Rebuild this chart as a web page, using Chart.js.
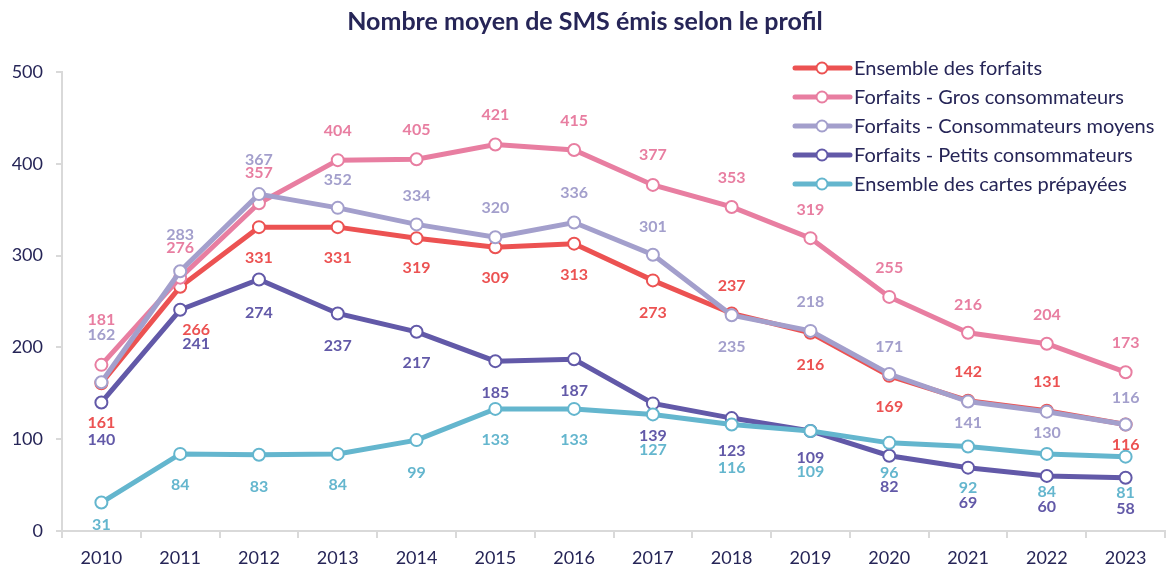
<!DOCTYPE html>
<html>
<head>
<meta charset="utf-8">
<script src="https://cdn.jsdelivr.net/npm/chart.js@4/dist/chart.umd.min.js"></script>
<style>
  html, body { margin: 0; padding: 0; background: #ffffff; }
  #wrap { width: 1173px; height: 570px; position: relative; }
</style>
</head>
<body>
<div id="wrap"><canvas id="c" width="1173" height="570"></canvas></div>
<script>
// ---- Data ----
const years = ['2010','2011','2012','2013','2014','2015','2016','2017','2018','2019','2020','2021','2022','2023'];
const seriesNames = [
  'Ensemble des forfaits',
  'Forfaits - Gros consommateurs',
  'Forfaits - Consommateurs moyens',
  'Forfaits - Petits consommateurs',
  'Ensemble des cartes prépayées'
];
const ensembleForfaits = [161, 266, 331, 331, 319, 309, 313, 273, 237, 216, 169, 142, 131, 116];
const grosConso       = [181, 276, 357, 404, 405, 421, 415, 377, 353, 319, 255, 216, 204, 173];
const moyensConso     = [162, 283, 367, 352, 334, 320, 336, 301, 235, 218, 171, 141, 130, 116];
const petitsConso     = [140, 241, 274, 237, 217, 185, 187, 139, 123, 109,  82,  69,  60,  58];
const cartesPrepayees = [ 31,  84,  83,  84,  99, 133, 133, 127, 116, 109,  96,  92,  84,  81];
const yTicks = [0, 100, 200, 300, 400, 500];

// ---- Styling / label placement (kept separate from data) ----
const colors = ['#EC5252', '#E87EA1', '#A39FCC', '#6259A8', '#64B6CE'];
const navy = '#262557';
// vertical offset (px) of each value label from its point
const labelDy = [
  [ 40, 43, 31, 31, 30, 31, 31, 32,-28, 32, 31,-29,-29, 20],
  [-45,-30,-30,-29,-29,-30,-29,-30,-29,-28,-29,-28,-29,-29],
  [-47,-36,-34,-28,-29,-29,-30,-28, 32,-29,-27, 21, 21,-27],
  [ 37, 34, 33, 32, 31, 32, 32, 32, 33, 27, 31, 35, 31, 31],
  [ 22, 31, 32, 31, 33, 31, 31, 35, 43, 41, 30, 41, 38, 36]
];
const labelDx = [
  [0,16,0,0,0,0,0,0,0,0,0,0,0,0],
  [0,0,0,0,0,0,0,0,0,0,0,0,0,0],
  [0,0,0,0,0,0,0,0,0,0,0,0,0,0],
  [0,16,0,0,0,0,0,0,0,0,0,0,0,0],
  [0,0,0,0,0,0,0,0,0,0,0,0,0,0]
];
const allSeries = [ensembleForfaits, grosConso, moyensConso, petitsConso, cartesPrepayees];

const valueLabels = {
  id: 'valueLabels',
  afterDatasetsDraw(chart) {
    const ctx = chart.ctx;
    ctx.save();
    ctx.font = 'bold 16px Lato';
    ctx.textAlign = 'center';
    ctx.textBaseline = 'middle';
    chart.data.datasets.forEach((ds, i) => {
      const meta = chart.getDatasetMeta(i);
      ctx.fillStyle = colors[i];
      meta.data.forEach((pt, j) => {
        ctx.fillText(String(ds.data[j]), pt.x + labelDx[i][j], pt.y + labelDy[i][j]);
      });
    });
    ctx.restore();
  }
};

const customLegend = {
  id: 'customLegend',
  afterDraw(chart) {
    const ctx = chart.ctx;
    const x0 = chart.chartArea.right - 370;
    const y0 = chart.chartArea.top - 4;
    ctx.save();
    chart.data.datasets.forEach((ds, i) => {
      const y = y0 + i * 29;
      ctx.strokeStyle = colors[i];
      ctx.lineWidth = 5;
      ctx.lineCap = 'round';
      ctx.beginPath();
      ctx.moveTo(x0, y);
      ctx.lineTo(x0 + 55, y);
      ctx.stroke();
      ctx.beginPath();
      ctx.arc(x0 + 27, y, 5.5, 0, Math.PI * 2);
      ctx.fillStyle = '#ffffff';
      ctx.fill();
      ctx.lineWidth = 2;
      ctx.stroke();
      ctx.fillStyle = navy;
      ctx.font = '20px Lato';
      ctx.textAlign = 'left';
      ctx.textBaseline = 'middle';
      ctx.fillText(ds.label, x0 + 59, y + 1);
    });
    ctx.restore();
  }
};

const drawOrder = [4, 3, 2, 1, 0];
const datasets = allSeries.map((vals, i) => ({
  label: seriesNames[i],
  data: vals,
  borderColor: colors[i],
  backgroundColor: colors[i],
  borderWidth: 5,
  tension: 0,
  pointRadius: 6,
  pointBorderWidth: 2,
  pointBackgroundColor: '#ffffff',
  pointBorderColor: colors[i],
  order: drawOrder[i],
  fill: false
}));

new Chart(document.getElementById('c'), {
  type: 'line',
  data: { labels: years, datasets },
  options: {
    responsive: false,
    animation: false,
    devicePixelRatio: 1,
    layout: { padding: { left: 0, right: 3, top: 0, bottom: 1 } },
    plugins: {
      legend: { display: false },
      tooltip: { enabled: false },
      title: {
        display: true,
        text: 'Nombre moyen de SMS émis selon le profil',
        color: navy,
        font: { family: 'Lato', size: 25, weight: 'bold' },
        padding: { top: 7, bottom: 35 }
      }
    },
    scales: {
      x: {
        offset: true,
        afterFit(scale) { scale.height = 38; },
        border: { color: '#d9d9d9', width: 2 },
        grid: { display: true, drawOnChartArea: false, drawTicks: true, tickLength: 7, color: '#d9d9d9', lineWidth: 2, offset: true },
        ticks: { color: navy, font: { family: 'Lato', size: 18 }, padding: 9, maxRotation: 0 }
      },
      y: {
        min: 0, max: 500,
        afterBuildTicks(scale) { scale.ticks = yTicks.map(v => ({ value: v })); },
        afterFit(scale) { scale.width = 62; },
        border: { color: '#d9d9d9', width: 2 },
        grid: { display: true, drawOnChartArea: false, drawTicks: true, tickLength: 6, color: '#d9d9d9', lineWidth: 2 },
        ticks: { color: navy, font: { family: 'Lato', size: 18 }, padding: 13 }
      }
    }
  },
  plugins: [valueLabels, customLegend]
});
</script>
</body>
</html>
